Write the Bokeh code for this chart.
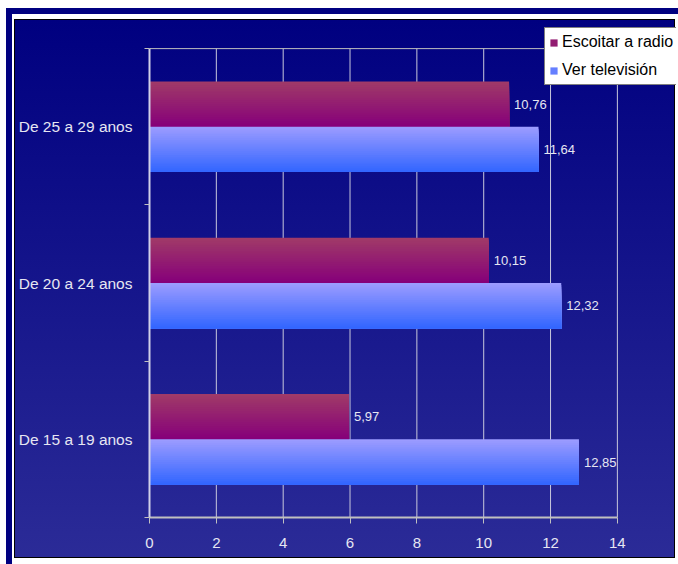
from bokeh.plotting import figure
from bokeh.models import (ColumnDataSource, FixedTicker, LabelSet, Legend,
                          LegendItem)
from bokeh.core.properties import value
from bokeh.layouts import column
from bokeh.embed import file_html
from bokeh.resources import INLINE

# ---------------- data ----------------
categories = ["De 15 a 19 anos", "De 20 a 24 anos", "De 25 a 29 anos"]
radio = [5.97, 10.15, 10.76]
tv = [12.85, 12.32, 11.64]
radio_labels = ["5,97", "10,15", "10,76"]
tv_labels = ["12,85", "12,32", "11,64"]
series_names = ["Escoitar a radio", "Ver televisión"]
x_ticks = [0, 2, 4, 6, 8, 10, 12, 14]

# ---------------- layout / style ----------------
FONT = "Liberation Sans"
BAR_H = 0.29
N_SLICES = 24
radio_top, radio_bot = (160, 58, 104), (134, 0, 122)
tv_top, tv_bot = (155, 155, 255), (51, 102, 255)

CW, CH = 659, 537           # canvas size (inside the 1px black border)
BL, BB = 133, 42            # left / bottom borders (axes)
PLOT_W, PLOT_H = 467, 467   # drawn plot area (0..14, 0..3)
FRAME_W, FRAME_H = CW - BL, CH - BB
x_max = x_ticks[-1]
n_cat = len(categories)
x_end = x_max * FRAME_W / PLOT_W
y_end = n_cat * FRAME_H / PLOT_H

cat_pos = [i + 0.5 for i in range(n_cat)]
radio_y = [c + BAR_H / 2 for c in cat_pos]
tv_y = [c - BAR_H / 2 for c in cat_pos]

p = figure(width=CW + 2, height=CH + 2, x_range=(0, x_end), y_range=(0, y_end),
           output_backend="svg", toolbar_location=None,
           min_border_left=BL, min_border_right=0,
           min_border_top=0, min_border_bottom=BB,
           border_fill_color=None, background_fill_color=None,
           outline_line_color=None,
           styles={"border": "1px solid #000000",
                   "background": "linear-gradient(to bottom, #000080 0%, #2b2b97 100%)"})

# grid lines and top border of the plot area
GRID = "#c8c8dc"
p.segment(x0=x_ticks[1:], x1=x_ticks[1:], y0=[0] * (len(x_ticks) - 1),
          y1=[n_cat] * (len(x_ticks) - 1), line_color=GRID, line_width=1)
p.segment(x0=[x_ticks[0]], x1=[x_max], y0=[n_cat], y1=[n_cat],
          line_color="#c0c0c0", line_width=1)
p.xgrid.grid_line_color = None
p.ygrid.grid_line_color = None


def mix(a, b, t):
    return "#%02x%02x%02x" % tuple(int(round(a[i] + (b[i] - a[i]) * t)) for i in range(3))


def gradient_bars(values, centers, ctop, cbot):
    rends = []
    dh = BAR_H / N_SLICES
    for k in range(N_SLICES):
        tops = [c + BAR_H / 2 - k * dh for c in centers]
        bots = [c - BAR_H / 2 for c in centers]
        src = ColumnDataSource(dict(top=tops, bottom=bots, right=values))
        col = mix(ctop, cbot, k / (N_SLICES - 1))
        r = p.quad(top="top", bottom="bottom", left=0, right="right", source=src,
                   fill_color=col, line_color=None)
        rends.append(r)
    return rends


r_radio = gradient_bars(radio, radio_y, radio_top, radio_bot)
r_tv = gradient_bars(tv, tv_y, tv_top, tv_bot)

# data labels
lab_src = ColumnDataSource(dict(x=radio + tv, y=radio_y + tv_y,
                                t=radio_labels + tv_labels))
p.add_layout(LabelSet(x="x", y="y", text="t", source=lab_src, x_offset=5,
                      text_baseline="middle", text_font=value(FONT),
                      text_font_size="13px", text_color="#e6e6f2"))

# axes
xa = p.xaxis[0]
xa.ticker = FixedTicker(ticks=x_ticks)
xa.bounds = (x_ticks[0], x_max)
xa.axis_line_color = "#c0c0c0"
xa.axis_line_width = 2
xa.major_tick_line_color = "#c0c0c0"
xa.major_tick_out = 6
xa.major_tick_in = 0
xa.minor_tick_line_color = None
xa.major_label_standoff = 14
xa.major_label_text_font = FONT
xa.major_label_text_font_size = "15px"
xa.major_label_text_color = "#e6e6f2"

ya = p.yaxis[0]
ya.ticker = FixedTicker(ticks=cat_pos, minor_ticks=list(range(n_cat + 1)))
ya.bounds = (0, n_cat)
ya.major_label_overrides = {cat_pos[i]: categories[i] for i in range(n_cat)}
ya.axis_line_color = "#d0d0e8"
ya.axis_line_width = 2
ya.major_tick_line_color = None
ya.major_tick_out = 0
ya.minor_tick_line_color = "#c0c0c0"
ya.minor_tick_out = 5
ya.minor_tick_in = 0
ya.major_label_standoff = 12
ya.major_label_text_font = FONT
ya.major_label_text_font_size = "15.5px"
ya.major_label_text_color = "#e6e6f2"

mid = N_SLICES // 2
legend = Legend(items=[LegendItem(label=series_names[0], renderers=[r_radio[mid]]),
                       LegendItem(label=series_names[1], renderers=[r_tv[mid]])],
                location=(395, 432), orientation="vertical",
                background_fill_color="white", background_fill_alpha=1,
                border_line_color="black", border_line_width=1,
                label_text_font=FONT, label_text_font_size="16px",
                label_text_color="black", glyph_width=9, glyph_height=9,
                label_standoff=4, padding=4, spacing=8, label_height=20,
                margin=0)
p.add_layout(legend, "center")

layout = column(p, styles={"border-top": "6px solid #000080",
                           "border-left": "6px solid #000080",
                           "padding": "5px 12px 12px 2px",
                           "margin-top": "8px", "margin-left": "6px",
                           "background": "white"})

open("out.html", "w").write(file_html(layout, INLINE))
